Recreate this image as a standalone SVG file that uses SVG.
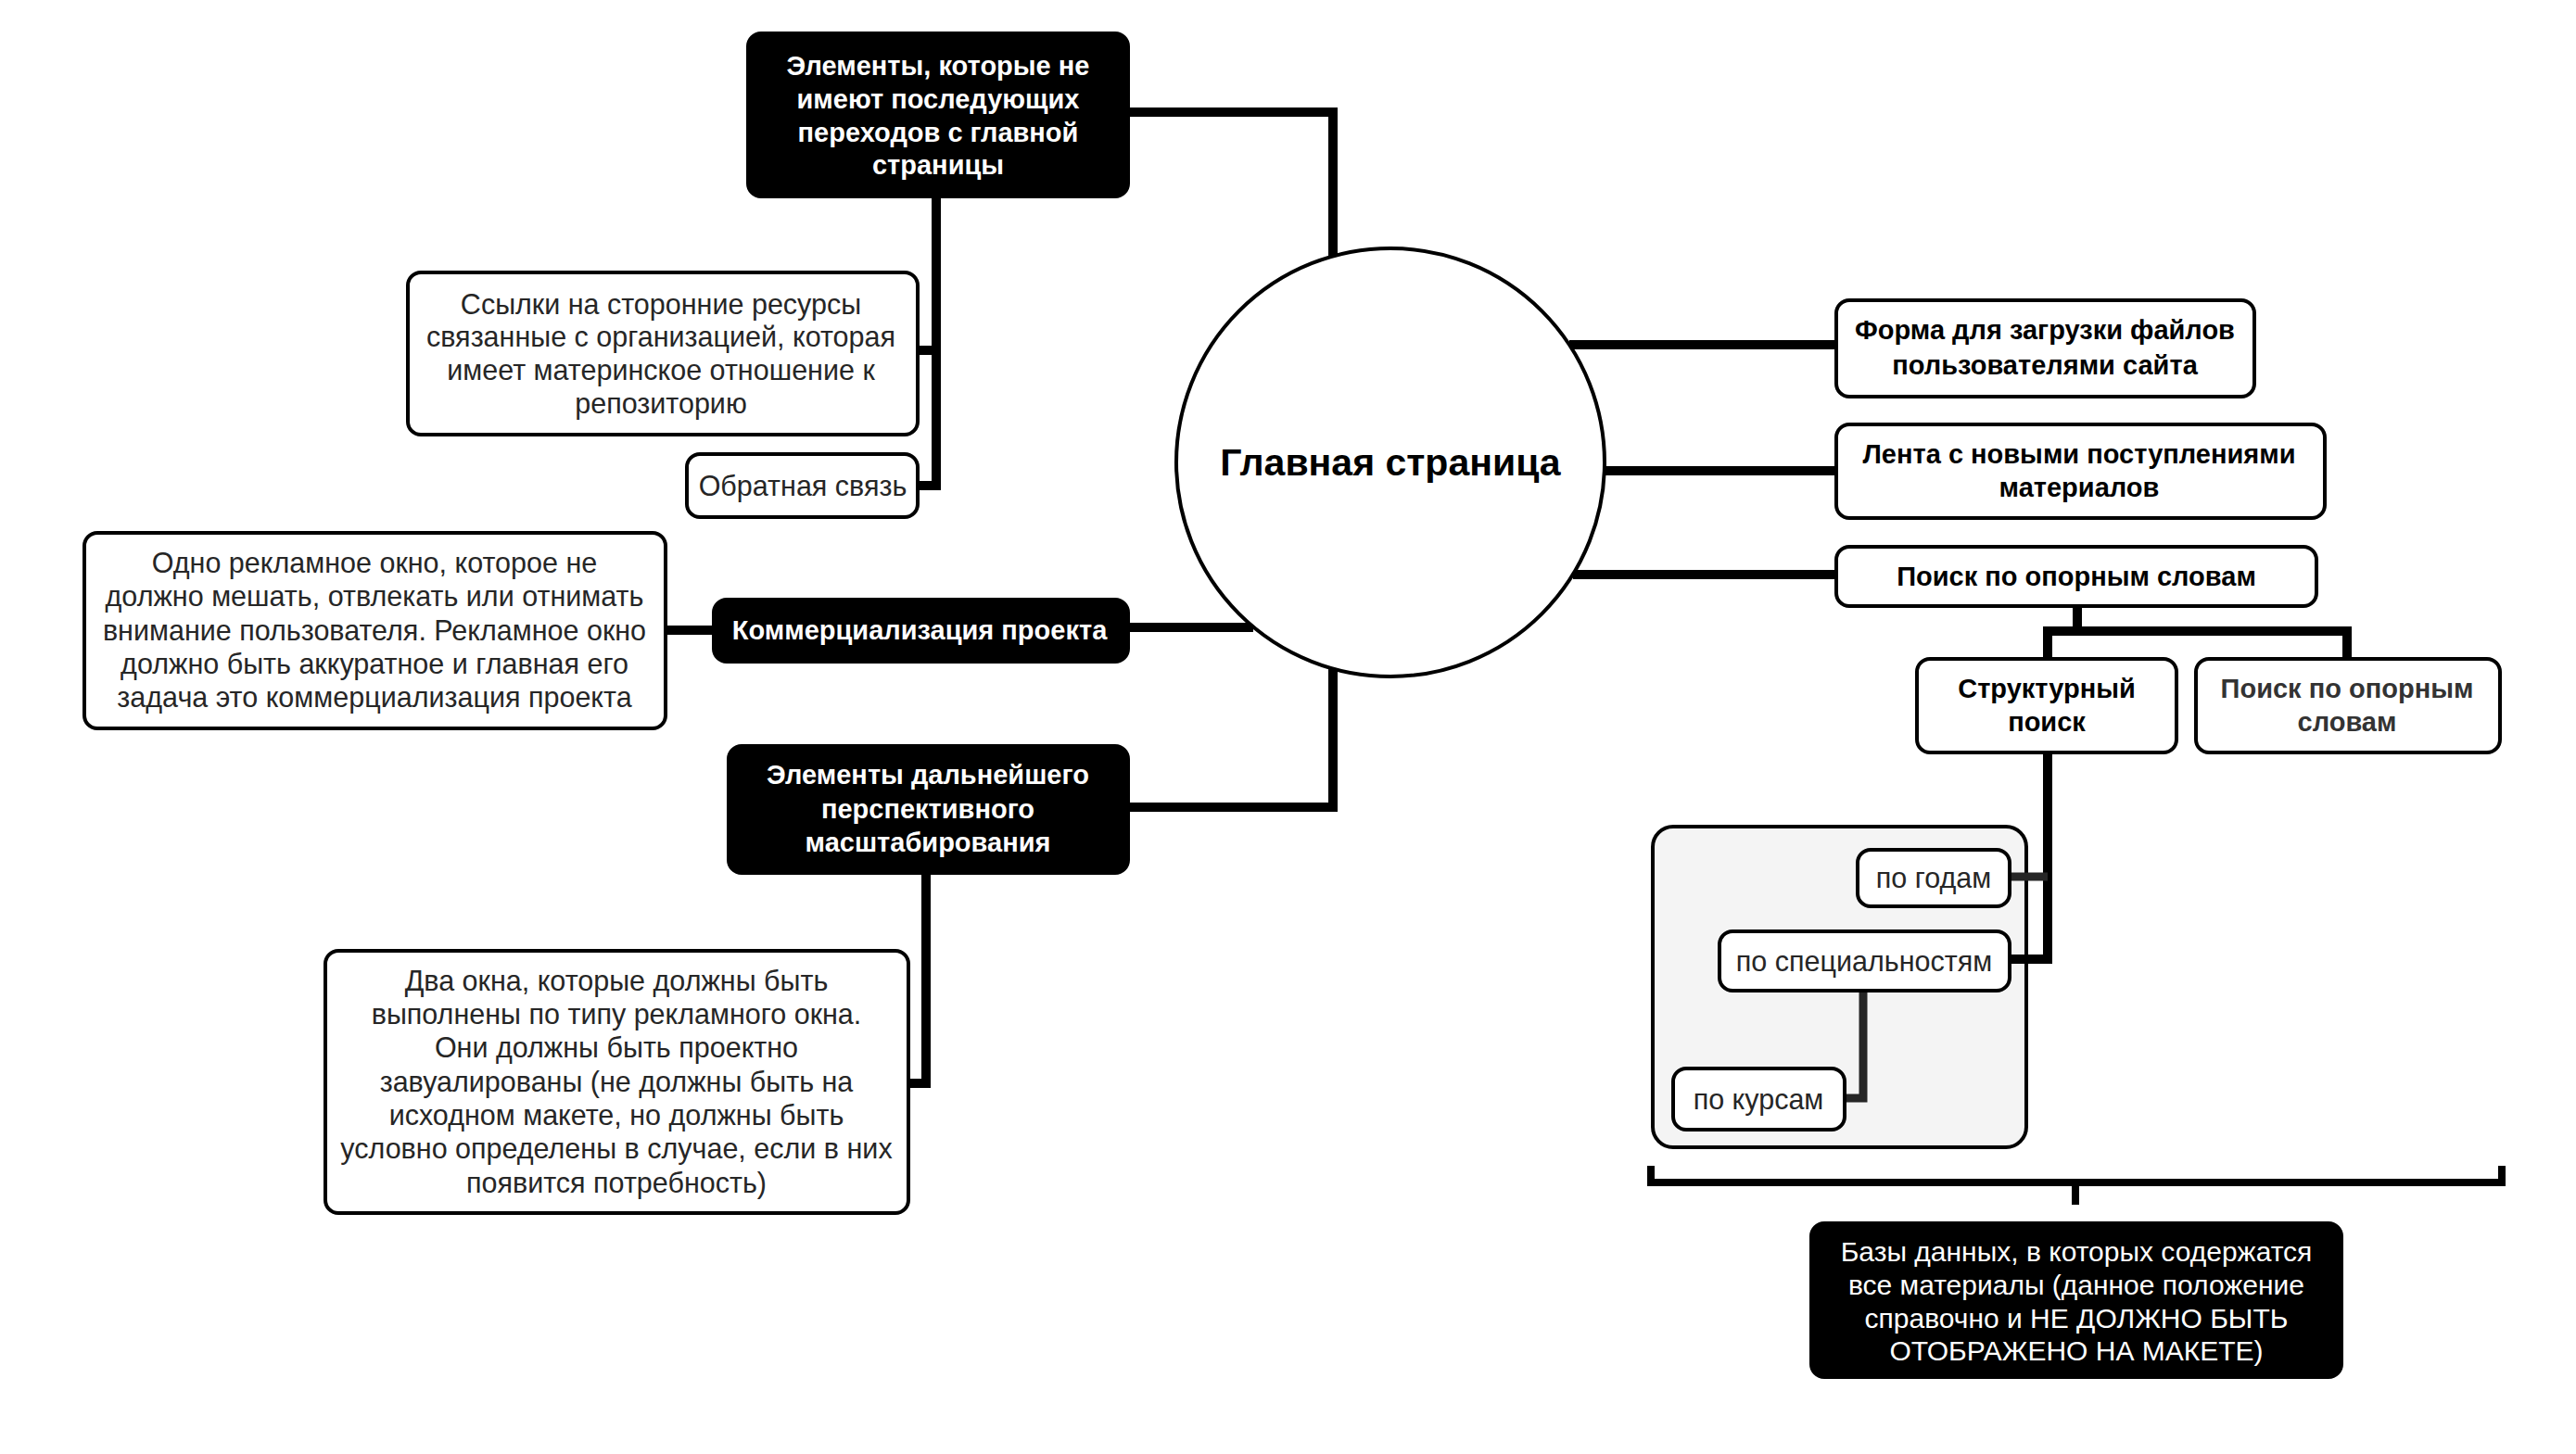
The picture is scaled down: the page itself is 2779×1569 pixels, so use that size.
<svg xmlns="http://www.w3.org/2000/svg" width="2779" height="1569" viewBox="0 0 2779 1569">
<style>
.bg{fill:#ffffff}
.wbox{fill:#ffffff;stroke:#000;stroke-width:4}
.bbox{fill:#000;stroke:#000;stroke-width:4}
.gbox{fill:#f4f4f4;stroke:#000;stroke-width:4}
.con{fill:none;stroke:#000;stroke-width:10;stroke-linejoin:miter;stroke-linecap:butt}
.con2{fill:none;stroke:#262626;stroke-width:9}
text{font-family:"Liberation Sans","DejaVu Sans",sans-serif;text-anchor:middle;dominant-baseline:central}
.r{font-size:30.5px;fill:#262626}
.b{font-size:29px;font-weight:bold;fill:#000}
.bw{font-size:29px;font-weight:bold;fill:#fff}
.rw{font-size:30px;fill:#fff}
.t{font-size:41px;font-weight:bold;fill:#000}
</style>
<rect class="bg" x="0" y="0" width="2779" height="1569"/>
<g id="connectors">
<path class="con" d="M1217,121 H1438 V277"/>
<path class="con" d="M1010,212 V524 H990 M990,378 H1010"/>
<path class="con" d="M718,680 H770 M1217,677 H1352"/>
<path class="con" d="M1217,871 H1438 V722"/>
<path class="con" d="M999,942 V1169 H980"/>
<path class="con" d="M1693,372 H1981 M1731,508 H1981 M1697,620 H1981"/>
<path class="con" d="M2241,654 V681 M2209,712 V681 H2532 V712"/>
</g>
<g id="grey-group"><rect class="gbox" x="1783" y="892" width="403" height="346" rx="22"/></g>
<g id="connectors-inner">
<path class="con" d="M2209,812 V1035 H2168"/>
<path class="con2" d="M2168,946 H2209"/>
<path class="con2" d="M2010,1069 V1185 H1990"/>
<path class="con" d="M1781,1258 V1276 H2699 V1258 M2239,1276 V1300" style="stroke-width:8"/>
</g>
<g id="main">
<circle cx="1500" cy="499" r="231" fill="#fff" stroke="#000" stroke-width="4"/>
<text class="t" x="1500" y="499">Главная страница</text>
</g>
<g id="no-transitions">
<rect class="bbox" x="807" y="36" width="410" height="176" rx="14"/>
<text class="bw" x="1012" y="71">Элементы, которые не</text>
<text class="bw" x="1012" y="107">имеют последующих</text>
<text class="bw" x="1012" y="143">переходов с главной</text>
<text class="bw" x="1012" y="178">страницы</text>
</g>
<g id="links">
<rect class="wbox" x="440" y="294" width="550" height="175" rx="14"/>
<text class="r" x="713" y="328">Ссылки на сторонние ресурсы</text>
<text class="r" x="713" y="363">связанные с организацией, которая</text>
<text class="r" x="713" y="399">имеет материнское отношение к</text>
<text class="r" x="713" y="435">репозиторию</text>
</g>
<g id="feedback">
<rect class="wbox" x="741" y="490" width="249" height="68" rx="14"/>
<text class="r" x="866" y="524">Обратная связь</text>
</g>
<g id="ad-window">
<rect class="wbox" x="91" y="575" width="627" height="211" rx="14"/>
<text class="r" x="404" y="607">Одно рекламное окно, которое не</text>
<text class="r" x="404" y="643">должно мешать, отвлекать или отнимать</text>
<text class="r" x="404" y="680">внимание пользователя. Рекламное окно</text>
<text class="r" x="404" y="716">должно быть аккуратное и главная его</text>
<text class="r" x="404" y="752">задача это коммерциализация проекта</text>
</g>
<g id="commercial">
<rect class="bbox" x="770" y="647" width="447" height="67" rx="14"/>
<text class="bw" x="992" y="680">Коммерциализация проекта</text>
</g>
<g id="scaling">
<rect class="bbox" x="786" y="805" width="431" height="137" rx="14"/>
<text class="bw" x="1001" y="836">Элементы дальнейшего</text>
<text class="bw" x="1001" y="873">перспективного</text>
<text class="bw" x="1001" y="909">масштабирования</text>
</g>
<g id="two-windows">
<rect class="wbox" x="351" y="1026" width="629" height="283" rx="14"/>
<text class="r" x="665" y="1058">Два окна, которые должны быть</text>
<text class="r" x="665" y="1094">выполнены по типу рекламного окна.</text>
<text class="r" x="665" y="1130">Они должны быть проектно</text>
<text class="r" x="665" y="1167">завуалированы (не должны быть на</text>
<text class="r" x="665" y="1203">исходном макете, но должны быть</text>
<text class="r" x="665" y="1239">условно определены в случае, если в них</text>
<text class="r" x="665" y="1276">появится потребность)</text>
</g>
<g id="upload-form">
<rect class="wbox" x="1981" y="324" width="451" height="104" rx="14"/>
<text class="b" x="2206" y="356">Форма для загрузки файлов</text>
<text class="b" x="2206" y="394">пользователями сайта</text>
</g>
<g id="feed">
<rect class="wbox" x="1981" y="458" width="527" height="101" rx="14"/>
<text class="b" x="2243" y="490">Лента с новыми поступлениями</text>
<text class="b" x="2243" y="526">материалов</text>
</g>
<g id="search">
<rect class="wbox" x="1981" y="590" width="518" height="64" rx="14"/>
<text class="b" x="2240" y="622">Поиск по опорным словам</text>
</g>
<g id="structural">
<rect class="wbox" x="2068" y="711" width="280" height="101" rx="14"/>
<text class="b" x="2208" y="743">Структурный</text>
<text class="b" x="2208" y="779">поиск</text>
</g>
<g id="keyword-search">
<rect class="wbox" x="2369" y="711" width="328" height="101" rx="14"/>
<text class="b" x="2532" y="743" style="fill:#333">Поиск по опорным</text>
<text class="b" x="2532" y="779" style="fill:#333">словам</text>
</g>
<g id="by-years">
<rect class="wbox" x="2004" y="917" width="164" height="61" rx="14"/>
<text class="r" x="2086" y="947">по годам</text>
</g>
<g id="by-specialty">
<rect class="wbox" x="1855" y="1005" width="313" height="64" rx="14"/>
<text class="r" x="2011" y="1037">по специальностям</text>
</g>
<g id="by-courses">
<rect class="wbox" x="1805" y="1153" width="185" height="66" rx="14"/>
<text class="r" x="1897" y="1186">по курсам</text>
</g>
<g id="databases">
<rect class="bbox" x="1954" y="1320" width="572" height="166" rx="14"/>
<text class="rw" x="2240" y="1350">Базы данных, в которых содержатся</text>
<text class="rw" x="2240" y="1386">все материалы (данное положение</text>
<text class="rw" x="2240" y="1422">справочно и НЕ ДОЛЖНО БЫТЬ</text>
<text class="rw" x="2240" y="1457">ОТОБРАЖЕНО НА МАКЕТЕ)</text>
</g>
</svg>
